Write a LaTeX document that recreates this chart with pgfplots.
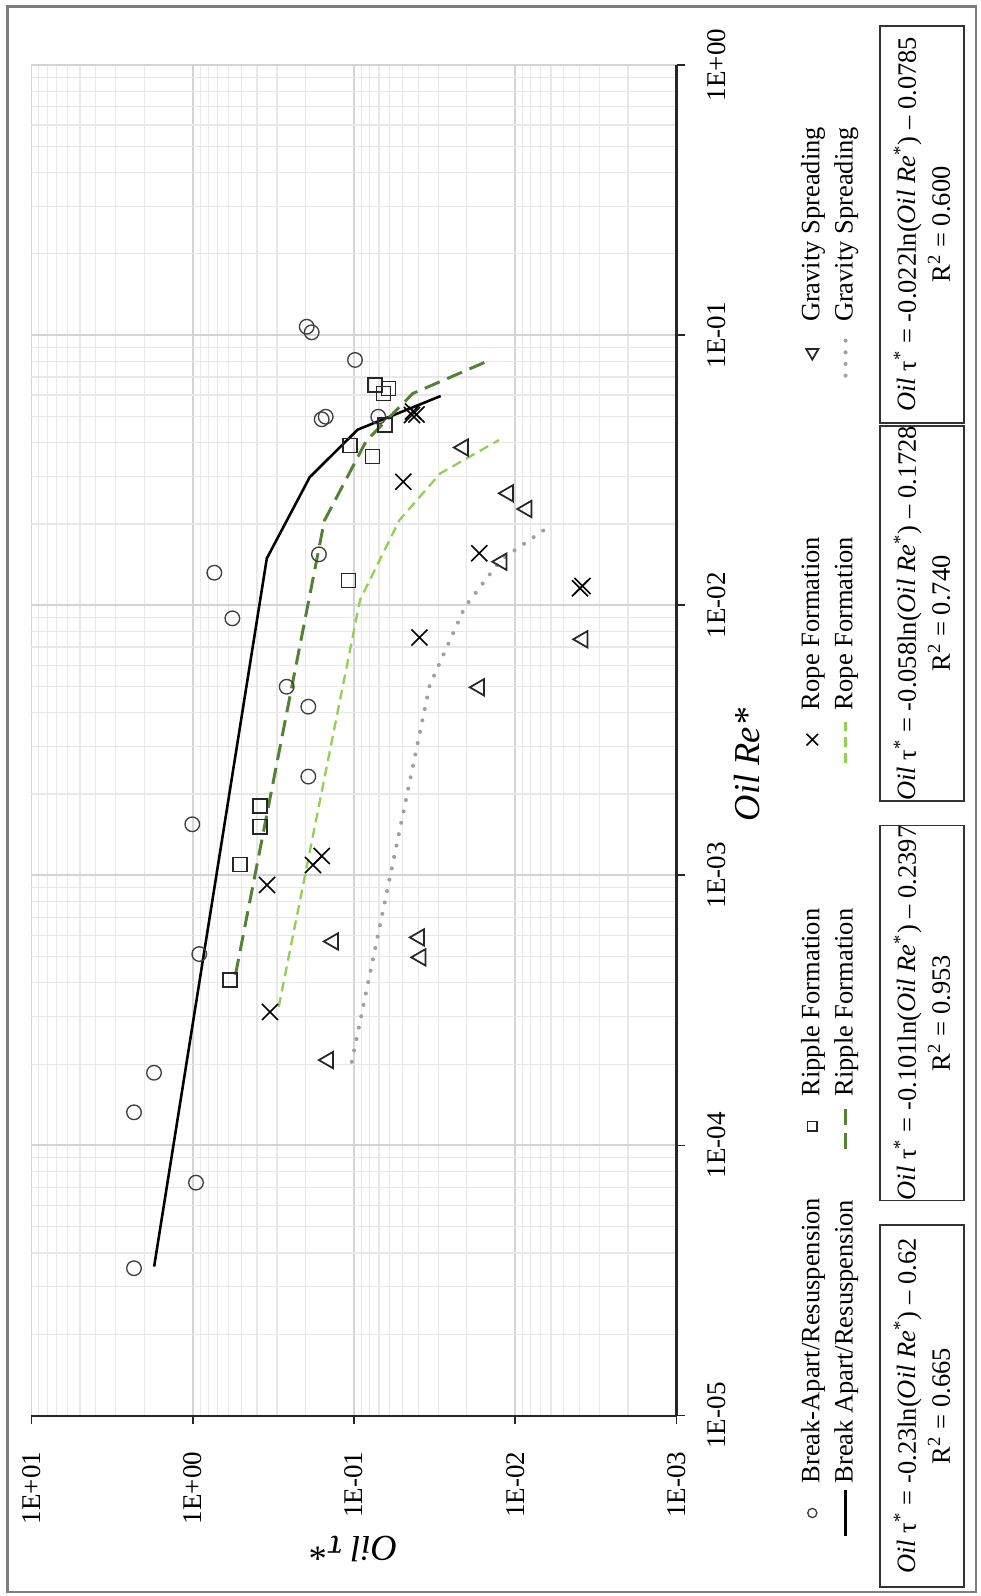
\documentclass[border=0pt]{standalone}
\usepackage{pgfplots}
\pgfplotsset{compat=1.18}
\usepackage{fontspec}
\setmainfont{Liberation Serif}

\definecolor{ripplegreen}{RGB}{84,130,53}
\definecolor{ropegreen}{RGB}{146,208,80}
\definecolor{gravgray}{RGB}{160,160,160}
\definecolor{framegray}{RGB}{125,125,125}

\begin{document}
\begin{tikzpicture}
\useasboundingbox (0pt,0pt) rectangle (362.97pt,590.52pt);
\draw[framegray, line width=0.9pt] (2.78pt,1.48pt) rectangle (361.12pt,588.04pt);

\begin{axis}[
  at={(11.655pt,66.785pt)}, anchor=south west,
  width=238.65pt, height=499.685pt, scale only axis,
  xmode=log, ymode=log, x dir=reverse,
  xmin=1e-3, xmax=10, ymin=1e-5, ymax=1,
  axis x line*=bottom, axis y line*=right,
  axis line style={black!85, line width=0.75pt, -},
  tick align=outside, major tick length=3pt, minor tick length=0pt,
  tick style={black!85, line width=0.6pt},
  xtick={0.001,0.01,0.1,1,10},
  xticklabels={1E-03,1E-02,1E-01,1E+00,1E+01},
  ytick={1e-5,1e-4,1e-3,1e-2,1e-1,1},
  yticklabels={1E-05,1E-04,1E-03,1E-02,1E-01,1E+00},
  minor xtick={0.002,0.003,0.004,0.005,0.006,0.007,0.008,0.009,
               0.02,0.03,0.04,0.05,0.06,0.07,0.08,0.09,
               0.2,0.3,0.4,0.5,0.6,0.7,0.8,0.9,
               2,3,4,5,6,7,8,9},
  minor ytick={2e-5,3e-5,4e-5,5e-5,6e-5,7e-5,8e-5,9e-5,
               2e-4,3e-4,4e-4,5e-4,6e-4,7e-4,8e-4,9e-4,
               0.002,0.003,0.004,0.005,0.006,0.007,0.008,0.009,
               0.02,0.03,0.04,0.05,0.06,0.07,0.08,0.09,
               0.2,0.3,0.4,0.5,0.6,0.7,0.8,0.9},
  grid=both,
  major grid style={black!17, line width=0.7pt},
  minor grid style={black!9, line width=0.45pt},
  xticklabel style={rotate=90, anchor=east, font=\fontsize{10}{12}\selectfont},
  yticklabel style={rotate=90, anchor=north, font=\fontsize{10}{12}\selectfont},
  xticklabel shift=6.9pt, yticklabel shift=5pt,
  xlabel={Oil τ*}, ylabel={Oil Re*},
  every axis x label/.style={at={(axis description cs:0.5,-0.0989)}, anchor=center,
    rotate=180, font=\fontsize{13.5}{16}\selectfont\itshape},
  every axis y label/.style={at={(axis description cs:1.1088,0.4817)}, anchor=center,
    rotate=90, font=\fontsize{13.5}{16}\selectfont\itshape},
  legend columns=4,
  legend cell align=left,
  legend to name=oilleg,
  legend style={draw=none, fill=none, font=\fontsize{9.8}{11.5}\selectfont},
]

% measured points: x = Oil tau*, y = Oil Re*
\addplot[only marks, mark=o, mark size=2.7pt, black!75, mark options={line width=0.5pt},
  legend image code/.code={\draw[black!75, line width=0.5pt, mark=o, mark size=1.7pt]
    plot coordinates {(0.3cm,0cm)};}]
  table[x=tau, y=re] {
tau     re
0.911   5.11e-4
1.739   1.858e-4
2.314   1.326e-4
0.955   7.28e-5
2.314   3.51e-5
0.735   0.01319
0.568   0.00894
0.165   0.01543
0.2615  0.00499
0.192   0.00421
0.192   0.00232
1.0065  0.001545
0.1965  0.1074
0.183   0.1024
0.0986  0.0809
0.1586  0.04878
0.1498  0.04986
0.0707  0.04986
};
\addlegendentry{\makebox[121pt][l]{Break-Apart/Resuspension}}

\addplot[only marks, mark=square, mark size=2.6pt, black!85, mark options={line width=0.55pt},
  legend image code/.code={\draw[black!85, line width=0.55pt, mark=square, mark size=1.7pt]
    plot coordinates {(0.3cm,0cm)};}]
  table[x=tau, y=re] {
tau     re
0.5875  4.10e-4
0.5093  0.001098
0.3828  0.001805
0.3828  0.001513
0.1085  0.01232
0.1059  0.03896
0.0766  0.03557
0.0741  0.06536
0.0613  0.06353
0.0658  0.06088
0.0642  0.04646
};
\addlegendentry{\makebox[121pt][l]{Ripple Formation}}

\addplot[only marks, mark=x, mark size=4.2pt, black, mark options={line width=0.6pt},
  legend image code/.code={\draw[black, line width=0.55pt, mark=x, mark size=3pt]
    plot coordinates {(0.3cm,0cm)};}]
  table[x=tau, y=re] {
tau       re
0.3319    3.12e-4
0.3463    9.21e-4
0.1586    0.001179
0.1796    0.001092
0.04945   0.02865
0.03929   0.007594
0.01671   0.01557
0.003967  0.01155
0.003827  0.01178
0.04305   0.05214
0.04096   0.05082
0.04367   0.0506
};
\addlegendentry{\makebox[121pt][l]{Rope Formation}}

\addplot[only marks, mark=triangle, mark size=3.5pt, black!85,
  mark options={rotate=90, line width=0.65pt},
  legend image code/.code={\draw[black!85, line width=0.6pt, mark=triangle, mark size=2.6pt]
    plot coordinates {(0.3cm,0cm)};}]
  table[x=tau, y=re] {
tau       re
0.1344    5.69e-4
0.1443    2.07e-4
0.03936   5.89e-4
0.03858   4.97e-4
0.0210    0.03836
0.01104   0.02596
0.00849   0.02271
0.01213   0.01449
0.01671   0.004966
0.003817  0.007478
};
\addlegendentry{\makebox[121pt][l]{Gravity Spreading}}

% logarithmic trend lines
\addplot[black, line width=0.95pt, no marks] table[x=tau, y=re] {
tau     re
1.736   3.56e-5
0.3474  0.01490
0.1883  0.02977
0.0951  0.04463
0.0290  0.0595
};
\addlegendentry{\makebox[121pt][l]{Break Apart/Resuspension}}

\addplot[ripplegreen, line width=1.1pt, no marks, dash pattern=on 6pt off 3pt]
  table[x=tau, y=re] {
tau     re
0.5437  4.28e-4
0.1527  0.020546
0.0838  0.040664
0.0432  0.060782
0.0143  0.0809
};
\addlegendentry{\makebox[121pt][l]{Ripple Formation}}

\addplot[ropegreen, line width=0.85pt, no marks, dash pattern=on 3.6pt off 2.2pt]
  table[x=tau, y=re] {
tau     re
0.2929  3.26e-4
0.0917  0.010467
0.0524  0.020608
0.0292  0.030749
0.0126  0.04089
};
\addlegendentry{\makebox[121pt][l]{Rope Formation}}

\addplot[gravgray, line width=1.5pt, no marks, line cap=round, dash pattern=on 0pt off 4.3pt]
  table[x=tau, y=re] {
tau     re
0.1033  2.04e-4
0.0340  0.005036
0.0205  0.009868
0.0123  0.0147
0.0062  0.01953
};
\addlegendentry{\makebox[121pt][l]{Gravity Spreading}}
\end{axis}

% legend, turned to run along the Re* axis
\node[rotate=90, anchor=west, inner sep=0pt] at (306.7pt,18.5pt) {\pgfplotslegendfromname{oilleg}};

% fitted equations
\tikzset{eqbox/.style={draw=black!80, line width=0.6pt, rotate=90, align=center,
  inner sep=0pt, minimum height=31.08pt, font=\fontsize{9.8}{12.6}\selectfont}}
\node[eqbox, minimum width=133.94pt] at (341.14pt,70.30pt)
  {\textit{Oil} τ\textsuperscript{*} = -0.23ln(\textit{Oil Re}\textsuperscript{*}) – 0.62\\R\textsuperscript{2} = 0.665};
\node[eqbox, minimum width=138.38pt] at (341.14pt,215.71pt)
  {\textit{Oil} τ\textsuperscript{*} = -0.101ln(\textit{Oil Re}\textsuperscript{*}) – 0.2397\\R\textsuperscript{2} = 0.953};
\node[eqbox, minimum width=138.75pt] at (341.14pt,363.53pt)
  {\textit{Oil} τ\textsuperscript{*} = -0.058ln(\textit{Oil Re}\textsuperscript{*}) – 0.1728\\R\textsuperscript{2} = 0.740};
\node[eqbox, minimum width=146.89pt] at (341.14pt,507.46pt)
  {\textit{Oil} τ\textsuperscript{*} = -0.022ln(\textit{Oil Re}\textsuperscript{*}) – 0.0785\\R\textsuperscript{2} = 0.600};
\end{tikzpicture}
\end{document}
